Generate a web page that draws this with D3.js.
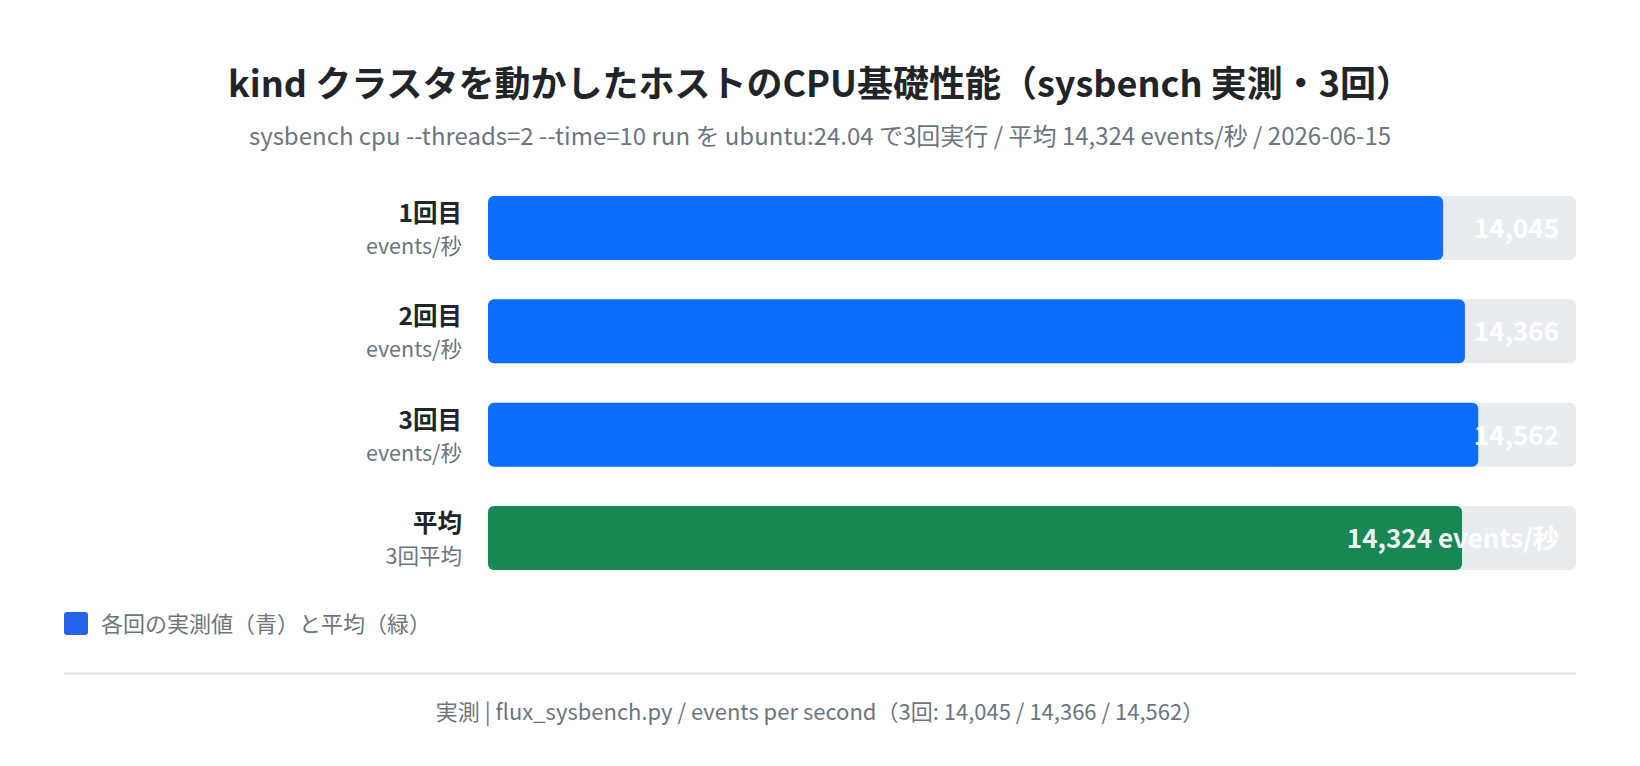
<!DOCTYPE html>
<html>
<head>
<meta charset="utf-8">
<script src="https://cdn.jsdelivr.net/npm/d3@7"></script>
<style>
  body { margin: 0; background: #fff; }
  svg text { font-family: "Noto Sans CJK JP", "Noto Sans", sans-serif; }
</style>
</head>
<body>
<div class="chart"></div>
<script>
var runs = ['1回目', '2回目', '3回目', '平均'];
var subLabels = ['events/秒', 'events/秒', 'events/秒', '3回平均'];
var values = [14045, 14366, 14562, 14324];
var valueLabels = ['14,045', '14,366', '14,562', '14,324 events/秒'];
var isAvg = [false, false, false, true];

var title = 'kind クラスタを動かしたホストのCPU基礎性能（sysbench 実測・3回）';
var subtitle = 'sysbench cpu --threads=2 --time=10 run を ubuntu:24.04 で3回実行 / 平均 14,324 events/秒 / 2026-06-15';
var legendText = '各回の実測値（青）と平均（緑）';
var footer = '実測 | flux_sysbench.py / events per second（3回: 14,045 / 14,366 / 14,562）';

const width = 1640;
const height = 766;
const plot = { left: 488, right: 1576, top: 196, bottom: 570 };

var data = runs.map((r, i) => ({
  run: r, sub: subLabels[i], value: values[i], label: valueLabels[i], avg: isAvg[i]
}));

var svg = d3.select('.chart')
  .append('svg')
    .attr('width', width)
    .attr('height', height);

svg.append('text')
  .attr('x', width / 2)
  .attr('y', 97)
  .attr('text-anchor', 'middle')
  .attr('font-size', 36)
  .attr('font-weight', 700)
  .attr('fill', '#212529')
  .text(title);

svg.append('text')
  .attr('x', width / 2)
  .attr('y', 145)
  .attr('text-anchor', 'middle')
  .attr('font-size', 24)
  .attr('fill', '#6c757d')
  .text(subtitle);

var xScale = d3.scaleLinear()
  .domain([0, 16000])
  .range([plot.left, plot.right]);

var yScale = d3.scaleBand()
  .domain(runs)
  .range([plot.top, plot.bottom])
  .paddingInner(0.38);

var rows = svg.selectAll('g.row')
  .data(data)
  .enter()
  .append('g')
    .attr('class', 'row')
    .attr('transform', d => `translate(0, ${yScale(d.run)})`);

// track
rows.append('rect')
  .attr('x', xScale(0))
  .attr('width', xScale.range()[1] - xScale(0))
  .attr('height', yScale.bandwidth())
  .attr('rx', 6)
  .attr('fill', '#e9ecef');

// value bar
rows.append('rect')
  .attr('x', xScale(0))
  .attr('width', d => xScale(d.value) - xScale(0))
  .attr('height', yScale.bandwidth())
  .attr('rx', 6)
  .attr('fill', d => d.avg ? '#198754' : '#0d6efd');

rows.append('text')
  .attr('x', xScale.range()[1] - 17)
  .attr('y', yScale.bandwidth() / 2 + 10)
  .attr('text-anchor', 'end')
  .attr('font-size', 26)
  .attr('font-weight', 700)
  .attr('fill', '#fff')
  .attr('fill-opacity', 0.95)
  .text(d => d.label);

// row labels
rows.append('text')
  .attr('x', plot.left - 26)
  .attr('y', yScale.bandwidth() / 2 - 6)
  .attr('text-anchor', 'end')
  .attr('font-size', 24.5)
  .attr('font-weight', 700)
  .attr('fill', '#212529')
  .text(d => d.run);

rows.append('text')
  .attr('x', plot.left - 26)
  .attr('y', yScale.bandwidth() / 2 + 26)
  .attr('text-anchor', 'end')
  .attr('font-size', 21.5)
  .attr('fill', '#6c757d')
  .text(d => d.sub);

// legend
var legend = svg.append('g')
  .attr('transform', 'translate(64, 612)');
legend.append('rect')
  .attr('width', 24)
  .attr('height', 23)
  .attr('rx', 3)
  .attr('fill', '#2563eb');
legend.append('text')
  .attr('x', 37)
  .attr('y', 20)
  .attr('font-size', 22)
  .attr('fill', '#6c757d')
  .text(legendText);

svg.append('line')
  .attr('x1', 64)
  .attr('x2', plot.right)
  .attr('y1', 673.5)
  .attr('y2', 673.5)
  .attr('stroke', '#dee2e6')
  .attr('stroke-width', 2);

svg.append('text')
  .attr('x', width / 2)
  .attr('y', 720)
  .attr('text-anchor', 'middle')
  .attr('font-size', 22)
  .attr('fill', '#6c757d')
  .text(footer);
</script>
</body>
</html>
